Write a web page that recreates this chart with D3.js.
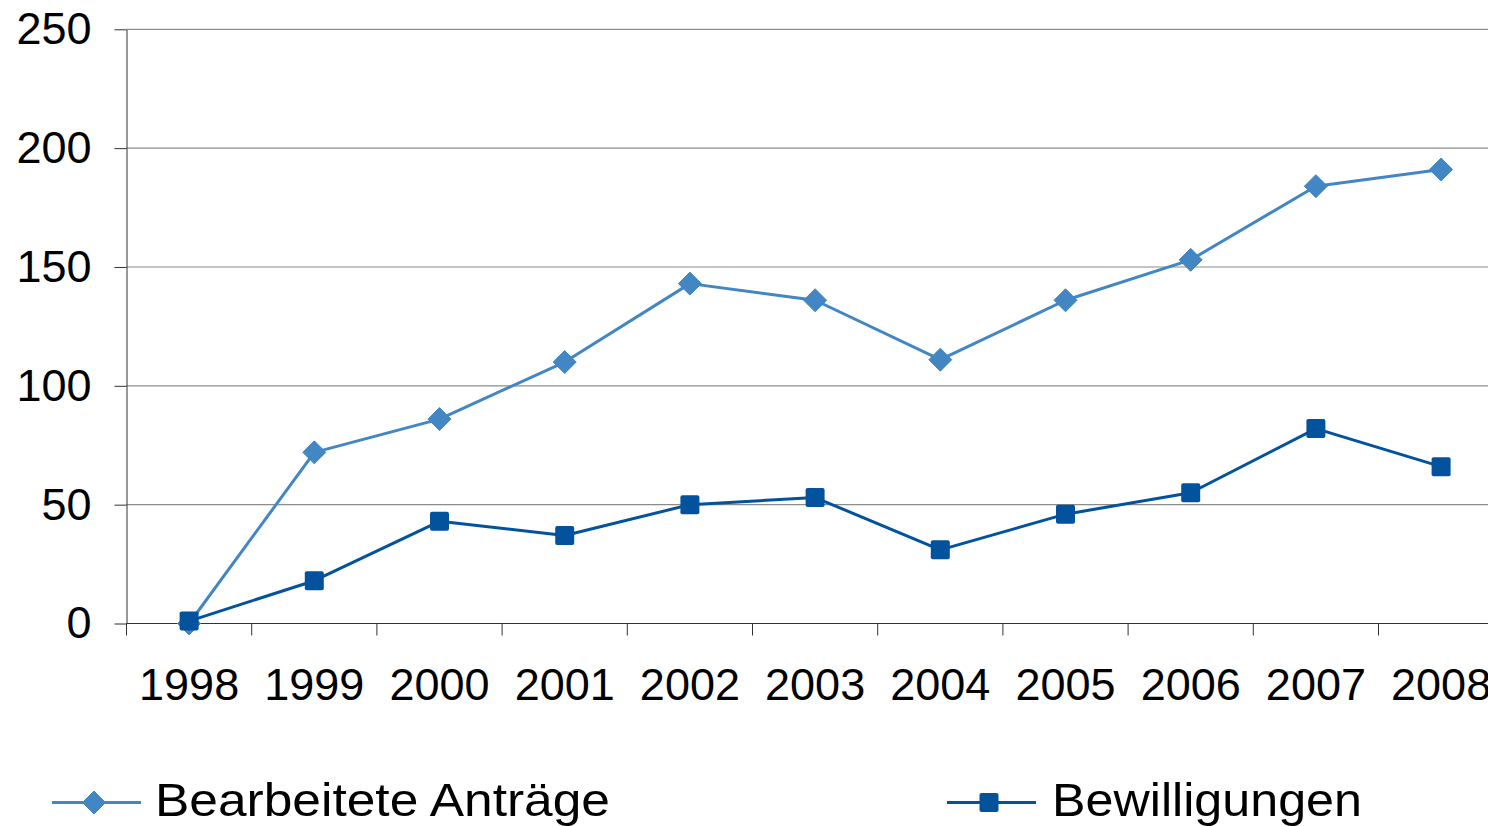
<!DOCTYPE html>
<html>
<head>
<meta charset="utf-8">
<script src="https://cdn.jsdelivr.net/npm/d3@7"></script>
<style>
    body { margin: 0; background: #fff; overflow: hidden; }
    text { font-family: "Liberation Sans", Arial, sans-serif; fill: #000; }
</style>
</head>
<body>
<div id="chart-area"></div>
<script>
// Chart data
const years = ['1998', '1999', '2000', '2001', '2002', '2003', '2004', '2005', '2006', '2007', '2008'];
const antraege = [0, 72, 86, 110, 143, 136, 111, 136, 153, 184, 191];
const bewilligungen = [1, 18, 43, 37, 50, 53, 31, 46, 55, 82, 66];
const yTicks = [0, 50, 100, 150, 200, 250];
const seriesNames = ['Bearbeitete Anträge', 'Bewilligungen'];

class LineChart {
    constructor() {
        this.width = 1488;
        this.height = 826;

        // plot area edges
        this.left = 126.5;
        this.top = 29.3;
        this.bottom = 623.5;
        this.bandWidth = 125.2;

        this.series = [
            { name: seriesNames[0], values: antraege, color: '#4286c4', symbol: 'diamond', textWidth: 455 },
            { name: seriesNames[1], values: bewilligungen, color: '#02529e', symbol: 'square', textWidth: 310 }
        ];
    }

    drawSymbol(g, symbol, color) {
        if (symbol === 'diamond') {
            g.append('path')
                .attr('d', 'M0,-11.5L11.5,0L0,11.5L-11.5,0Z')
                .attr('fill', color)
                .attr('stroke', color)
                .attr('stroke-linejoin', 'round')
                .attr('stroke-width', 1);
        } else {
            g.append('rect')
                .attr('x', -9.5).attr('y', -9.5)
                .attr('width', 19).attr('height', 19)
                .attr('rx', 2)
                .attr('fill', color);
        }
    }

    draw() {
        let svg = d3.select('#chart-area').append('svg')
            .attr('width', this.width)
            .attr('height', this.height);

        this.xScale = d3.scaleBand()
            .domain(years)
            .range([this.left, this.left + years.length * this.bandWidth])
            .padding(0);

        this.yScale = d3.scaleLinear()
            .domain([0, 250])
            .range([this.bottom, this.top]);

        let xEnd = this.left + years.length * this.bandWidth;

        // gridlines
        svg.append('g').classed('grid', true)
            .selectAll('line')
            .data(yTicks.filter(d => d > 0))
            .join('line')
            .attr('x1', this.left)
            .attr('x2', xEnd)
            .attr('y1', d => this.yScale(d))
            .attr('y2', d => this.yScale(d))
            .attr('stroke', '#8c8c8c')
            .attr('stroke-width', 1.2);

        // y axis
        let yAxis = svg.append('g')
            .attr('transform', `translate(${this.left}, 0)`)
            .call(d3.axisLeft(this.yScale)
                .tickValues(yTicks)
                .tickSize(12)
                .tickSizeOuter(0)
                .tickPadding(23));
        yAxis.select('.domain').attr('stroke', '#333');
        yAxis.selectAll('.tick line').attr('stroke', '#333');
        yAxis.selectAll('text')
            .style('font-size', '45px')
            .attr('fill', '#000');

        // x axis: labels at band centres, tick marks at band edges
        let xAxis = svg.append('g')
            .attr('transform', `translate(0, ${this.bottom})`)
            .call(d3.axisBottom(this.xScale)
                .tickSize(0)
                .tickSizeOuter(0)
                .tickPadding(45));
        xAxis.select('.domain').attr('stroke', '#333').attr('d', `M${this.left},0H${xEnd}`);
        xAxis.selectAll('text')
            .style('font-size', '45px')
            .attr('fill', '#000');

        xAxis.selectAll('line.edge')
            .data(years)
            .join('line')
            .classed('edge', true)
            .attr('x1', d => this.xScale(d))
            .attr('x2', d => this.xScale(d))
            .attr('y1', 0)
            .attr('y2', 12)
            .attr('stroke', '#333');

        // lines and markers
        let line = d3.line()
            .x((d, i) => this.xScale(years[i]) + this.xScale.bandwidth() / 2)
            .y(d => this.yScale(d));

        this.series.forEach(s => {
            let g = svg.append('g');
            g.append('path')
                .datum(s.values)
                .attr('d', line)
                .attr('fill', 'none')
                .attr('stroke', s.color)
                .attr('stroke-width', 3)
                .attr('stroke-linejoin', 'round');

            s.values.forEach((v, i) => {
                let m = g.append('g')
                    .attr('transform', `translate(${this.xScale(years[i]) + this.xScale.bandwidth() / 2}, ${this.yScale(v)})`);
                this.drawSymbol(m, s.symbol, s.color);
            });
        });

        // legend
        let legendPos = [{ x: 52, textX: 155 }, { x: 947, textX: 1052 }];
        let legendY = 802.5;

        this.series.forEach((s, i) => {
            let lg = svg.append('g')
                .attr('transform', `translate(${legendPos[i].x}, ${legendY})`);
            lg.append('line')
                .attr('x1', 0).attr('x2', 89)
                .attr('y1', 0).attr('y2', 0)
                .attr('stroke', s.color)
                .attr('stroke-width', 3);
            let m = lg.append('g').attr('transform', 'translate(42, 0)');
            this.drawSymbol(m, s.symbol, s.color);

            svg.append('text')
                .attr('x', legendPos[i].textX)
                .attr('y', legendY + 13)
                .attr('textLength', s.textWidth)
                .attr('lengthAdjust', 'spacingAndGlyphs')
                .style('font-size', '47px')
                .text(s.name);
        });
    }
}

let chart = new LineChart();
chart.draw();
</script>
</body>
</html>
